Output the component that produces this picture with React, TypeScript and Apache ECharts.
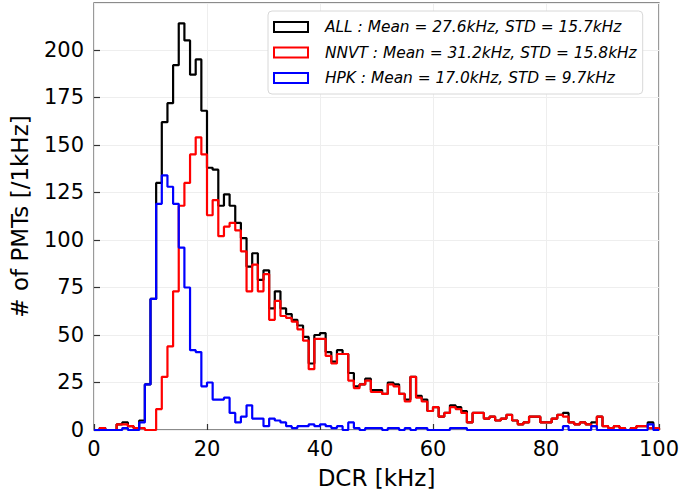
import React, { useEffect, useRef } from "react";
import * as echarts from "echarts";

// Bin left edges 0..99 kHz, 1 kHz bins
const binEdges: number[] = Array.from({ length: 101 }, (_, i) => i);

const allCounts: number[] = [
  0, 1, 0, 0, 3, 4, 2, 1, 5, 24,
  69, 130, 162, 172, 192, 214, 205, 187, 195, 168,
  138, 137, 118, 124, 118, 109, 101, 86, 93, 79,
  84, 64, 73, 64, 61, 58, 55, 49, 35, 50,
  51, 41, 36, 42, 40, 30, 23, 24, 27, 21,
  21, 19, 25, 24, 19, 16, 28, 18, 16, 10,
  12, 7, 9, 13, 12, 10, 4, 9, 9, 6,
  7, 5, 6, 8, 5, 3, 4, 7, 7, 4,
  4, 6, 8, 9, 4, 3, 4, 3, 4, 7,
  2, 1, 2, 1, 0, 1, 2, 2, 4, 1,
];

const nnvtCounts: number[] = [
  0, 1, 0, 0, 3, 3, 2, 1, 1, 0,
  0, 11, 28, 44, 73, 118, 130, 145, 154, 145,
  113, 121, 102, 107, 109, 105, 94, 73, 87, 73,
  82, 58, 68, 60, 59, 57, 53, 47, 32, 48,
  48, 39, 35, 40, 40, 26, 22, 24, 26, 20,
  20, 19, 24, 23, 19, 15, 28, 17, 15, 10,
  12, 7, 9, 12, 11, 9, 4, 9, 9, 6,
  7, 5, 6, 8, 5, 3, 4, 7, 7, 4,
  4, 6, 8, 7, 4, 3, 4, 3, 2, 7,
  2, 1, 2, 1, 0, 1, 2, 2, 1, 1,
];

const hpkCounts: number[] = [
  0, 0, 0, 0, 0, 1, 0, 0, 4, 24,
  69, 119, 134, 128, 119, 96, 75, 42, 41, 23,
  25, 16, 16, 17, 9, 4, 7, 13, 6, 6,
  2, 6, 5, 4, 2, 1, 2, 2, 3, 2,
  3, 2, 1, 2, 0, 4, 1, 0, 1, 1,
  1, 0, 1, 1, 0, 1, 0, 1, 1, 0,
  0, 0, 0, 1, 1, 1, 0, 0, 0, 0,
  0, 0, 0, 0, 0, 0, 0, 0, 0, 0,
  0, 0, 0, 2, 0, 0, 0, 0, 2, 0,
  0, 0, 0, 0, 0, 0, 0, 0, 3, 0,
];

const seriesNames: string[] = ["ALL", "NNVT", "HPK"];
const seriesLabels: string[] = [
  "ALL : Mean = 27.6kHz, STD = 15.7kHz",
  "NNVT : Mean = 31.2kHz, STD = 15.8kHz",
  "HPK : Mean = 17.0kHz, STD = 9.7kHz",
];
const seriesColors: string[] = ["#000000", "#ff0000", "#0000ff"];

const xTicks = { min: 0, max: 100, interval: 20 };
const yTicks = { min: 0, max: 224.7, interval: 25 };

function stepData(counts: number[]): number[][] {
  const pts: number[][] = [[binEdges[0], 0]];
  counts.forEach((c, i) => pts.push([binEdges[i], c]));
  const last = counts[counts.length - 1];
  pts.push([binEdges[counts.length], last]);
  pts.push([binEdges[counts.length], 0]);
  return pts;
}

export default function App() {
  const ref = useRef<HTMLDivElement>(null);
  useEffect(() => {
    if (!ref.current) return;
    const chart = echarts.init(ref.current, undefined, { renderer: "svg" });
    const font = "DejaVu Sans";
    const allData = [allCounts, nnvtCounts, hpkCounts];
    chart.setOption({
      animation: false,
      backgroundColor: "#ffffff",
      textStyle: { fontFamily: font },
      grid: {
        left: 88,
        right: 26,
        top: 3,
        bottom: 64,
        show: true,
        borderColor: "#666666",
        borderWidth: 1.3,
        backgroundColor: "transparent",
      },
      legend: {
        orient: "vertical",
        left: 268,
        top: 11,
        padding: [7, 6, 7, 5],
        itemGap: 7.5,
        itemWidth: 34,
        itemHeight: 10,
        backgroundColor: "#ffffff",
        borderColor: "#d8d8d8",
        borderWidth: 1,
        borderRadius: 4,
        data: seriesNames.map((n, i) => ({
          name: n,
          icon: "rect",
          itemStyle: { color: "#ffffff", borderColor: seriesColors[i], borderWidth: 2 },
        })),
        formatter: (name: string) => "{g|}{t|" + seriesLabels[seriesNames.indexOf(name)] + "}",
        textStyle: {
          fontFamily: font,
          fontSize: 15.4,
          lineHeight: 18,
          color: "#000",
          rich: {
            g: { width: 12 },
            t: { fontFamily: font, fontStyle: "italic", fontSize: 15.4, lineHeight: 18, color: "#000" },
          },
        },
      },
      xAxis: {
        type: "value",
        min: xTicks.min,
        max: xTicks.max,
        interval: xTicks.interval,
        name: "DCR [kHz]",
        nameLocation: "middle",
        nameGap: 36,
        nameTextStyle: { fontFamily: font, fontSize: 23, color: "#000" },
        axisLine: { show: false },
        axisTick: { show: true, inside: true, length: 6, lineStyle: { color: "#333", width: 1.2 } },
        axisLabel: { fontFamily: font, fontSize: 21, color: "#000", margin: 8 },
        splitLine: { show: true, lineStyle: { color: "#eeeeee", width: 1 } },
      },
      yAxis: {
        type: "value",
        min: yTicks.min,
        max: yTicks.max,
        interval: yTicks.interval,
        name: "# of PMTs [/1kHz]",
        nameLocation: "middle",
        nameGap: 63,
        nameTextStyle: { fontFamily: font, fontSize: 23, color: "#000" },
        axisLine: { show: false },
        axisTick: { show: true, inside: true, length: 6, lineStyle: { color: "#333", width: 1.2 } },
        axisLabel: { fontFamily: font, fontSize: 21, color: "#000", margin: 10, showMaxLabel: false },
        splitLine: { show: true, lineStyle: { color: "#eeeeee", width: 1 } },
      },
      series: seriesNames.map((n, i) => ({
        name: n,
        type: "line",
        step: "end",
        showSymbol: false,
        symbol: "none",
        data: stepData(allData[i]),
        lineStyle: { color: seriesColors[i], width: 2.2 },
        itemStyle: { color: seriesColors[i] },
        z: 2 + i,
      })),
    });
    return () => chart.dispose();
  }, []);
  return <div ref={ref} style={{ width: 685, height: 494, position: "absolute", left: 0, top: 0 }} />;
}
